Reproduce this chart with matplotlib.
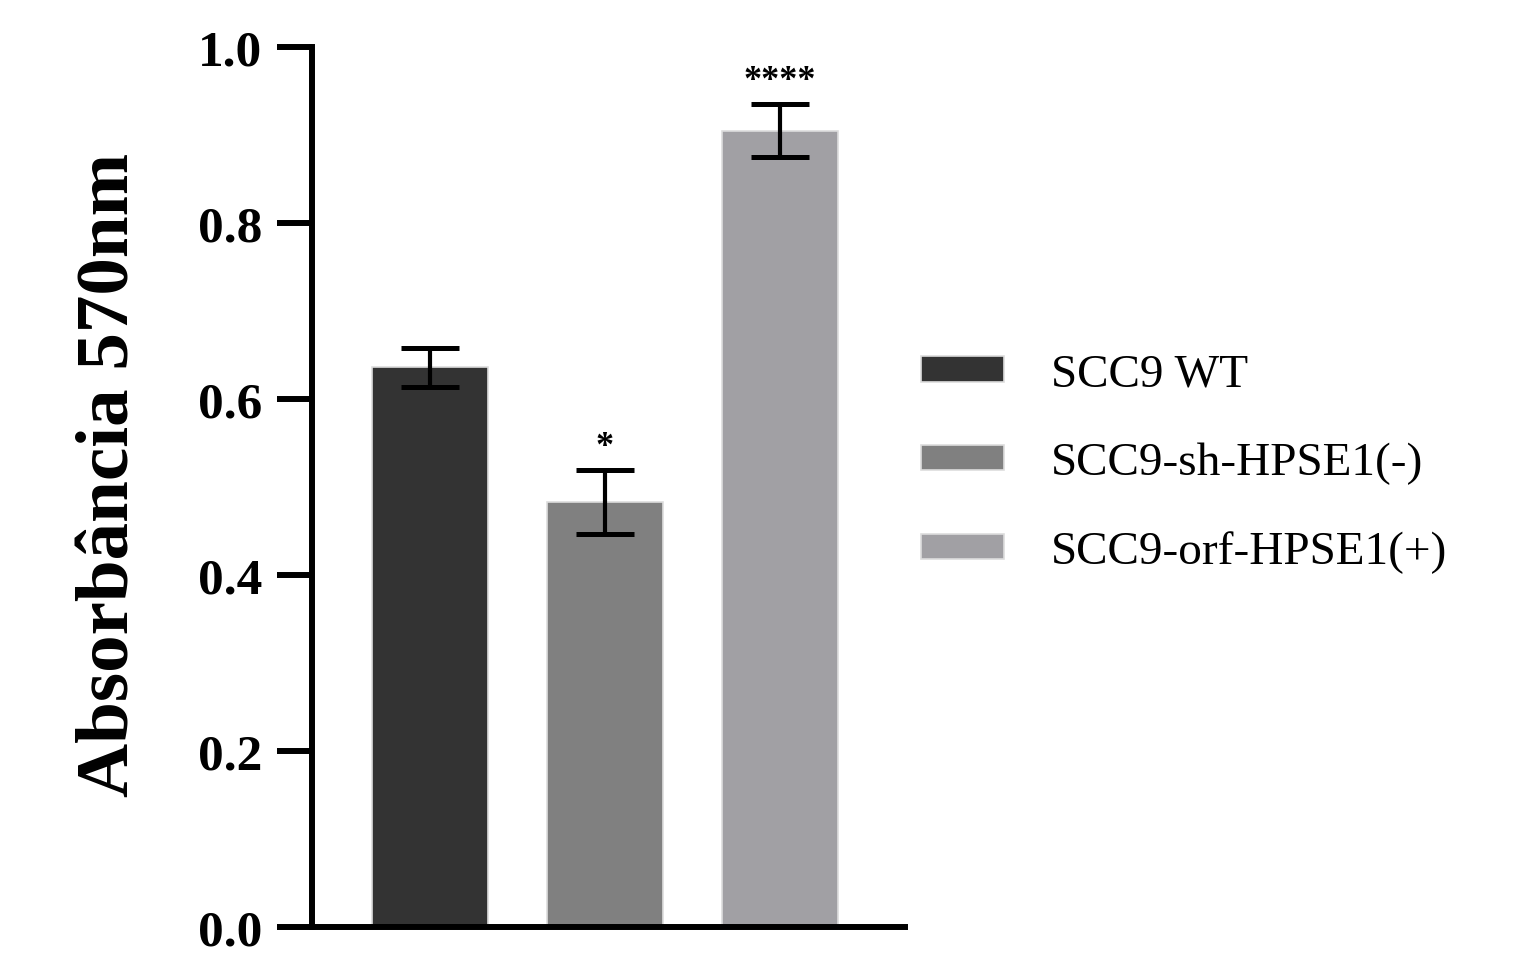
import numpy as np
import matplotlib
matplotlib.use('Agg')
import matplotlib.pyplot as plt

# dados
grupos = ['SCC9 WT', 'SCC9-sh-HPSE1(-)', 'SCC9-orf-HPSE1(+)']
medias = [0.636, 0.483, 0.905]
erros = [0.022, 0.036, 0.030]
signif = ['', '*', '****']
cores = ['#333333', '#808080', '#a1a0a4']

plt.rcParams['font.family'] = ['Liberation Serif', 'DejaVu Serif']

fig = plt.figure(figsize=(15.13, 9.54), dpi=100)
ax = fig.add_axes([0.2062, 0.0273, 0.392, 0.9224])

x = np.arange(len(grupos))
barras = ax.bar(x, medias, width=0.663, color=cores, edgecolor='#dddddd',
                linewidth=1.2, label=grupos)
ax.errorbar(x, medias, yerr=erros, fmt='none', ecolor='black',
            elinewidth=3.0, capsize=21, capthick=3.6, zorder=3)

for xi, m, e, s in zip(x, medias, erros, signif):
    if s:
        ax.annotate(s, (xi, m + e), xytext=(0, 5), textcoords='offset points',
                    ha='center', va='bottom', fontsize=26, fontweight='bold')

ax.set_xlim(-0.674, 2.714)
ax.set_ylim(0, 1.0)
ax.set_yticks([0.0, 0.2, 0.4, 0.6, 0.8, 1.0])
ax.set_yticklabels(['0.0', '0.2', '0.4', '0.6', '0.8', '1.0'])
ax.set_xticks([])

for lado in ['top', 'right']:
    ax.spines[lado].set_visible(False)
for lado in ['left', 'bottom']:
    ax.spines[lado].set_linewidth(4.3)
ax.tick_params(axis='y', direction='out', length=25, width=4.3, pad=11,
               labelsize=37)
for lbl in ax.get_yticklabels():
    lbl.set_fontweight('bold')

ax.set_ylabel('Absorbância 570nm', fontsize=54, fontweight='bold', labelpad=38)
ax.yaxis.label.set_y(0.515)

leg = ax.legend(handles=list(barras), labels=grupos, loc='center left',
                bbox_to_anchor=(0.955, 0.527), frameon=False, fontsize=34,
                handlelength=1.75, handleheight=0.46, handletextpad=1.0,
                labelspacing=0.98)

fig.savefig('out.png', dpi=100)
